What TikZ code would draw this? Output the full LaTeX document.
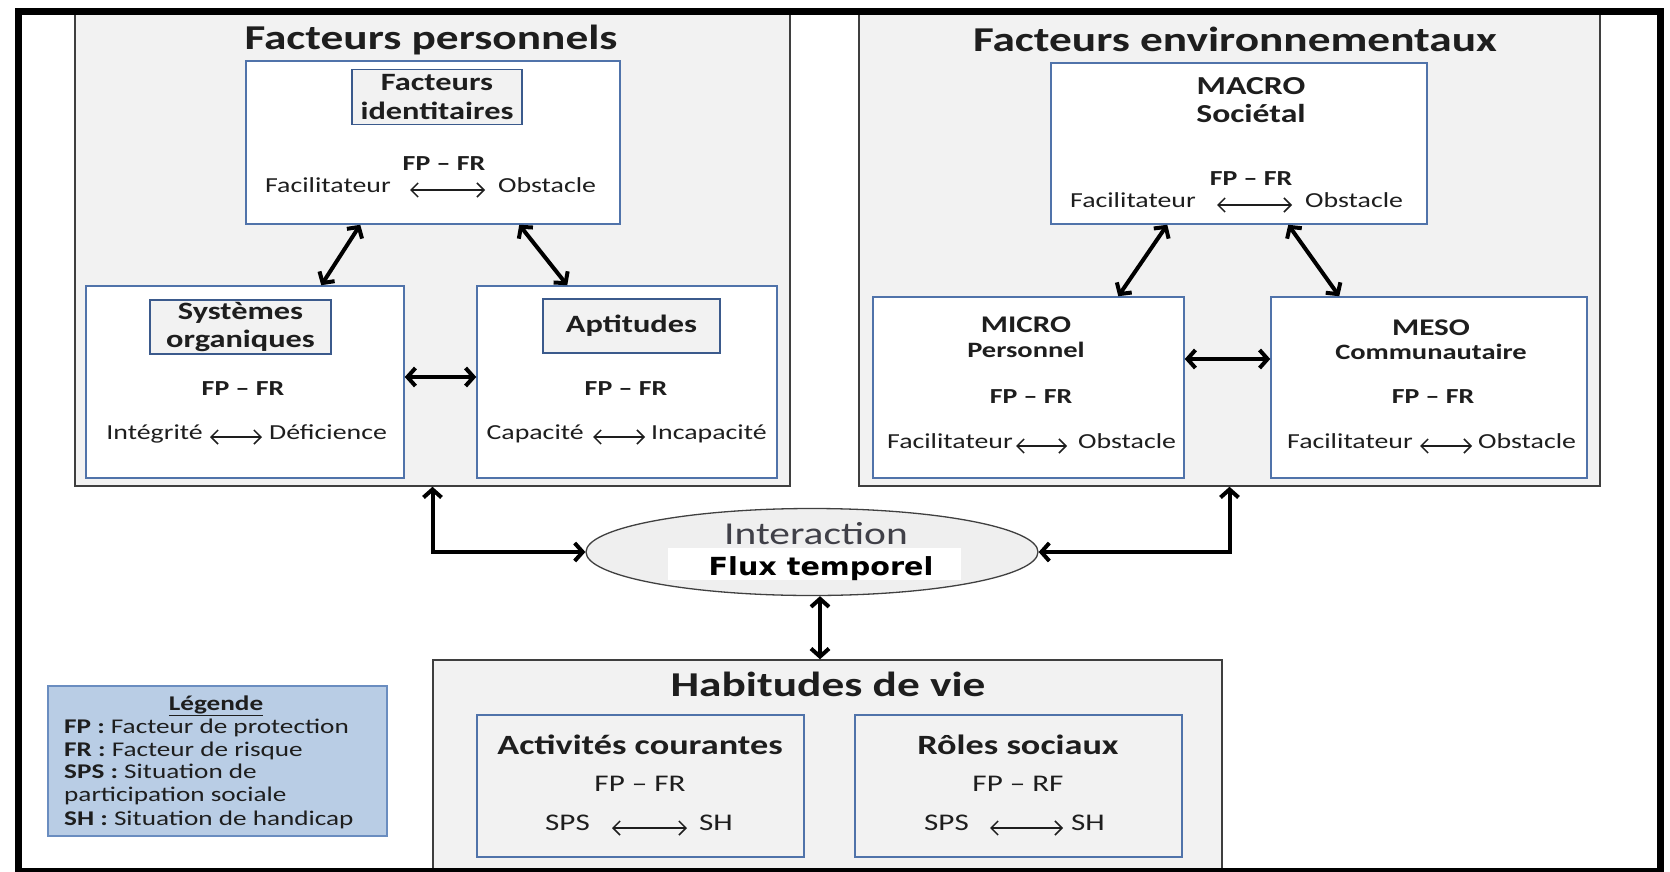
\documentclass[tikz,border=0pt]{standalone}
\usepackage{fontspec}
\setmainfont{Carlito}[FakeStretch=1.3]
\newfontfamily\fluxfont{DejaVu Sans}[FakeStretch=1.15]
\usetikzlibrary{arrows.meta,shapes.geometric}
\definecolor{biggray}{HTML}{F2F2F2}
\definecolor{bigborder}{HTML}{3F3F3F}
\definecolor{boxblue}{HTML}{5073AA}
\definecolor{tagblue}{HTML}{3B5A8C}
\definecolor{legfill}{HTML}{B9CDE5}
\definecolor{legborder}{HTML}{6A8DC0}
\definecolor{ellfill}{HTML}{EFEFEF}
\definecolor{ellborder}{HTML}{404040}
\definecolor{ink}{HTML}{1E1E1E}
\definecolor{intercol}{HTML}{404048}
\newcommand\ftitle{\fontsize{35}{40}\selectfont\bfseries}
\newcommand\ftag{\fontsize{25}{28.5}\selectfont\bfseries}
\newcommand\fbody{\fontsize{21.5}{24}\selectfont}
\newcommand\fbodyb{\fontsize{21.5}{24}\selectfont\bfseries}
\newcommand\fmacro{\fontsize{26}{28}\selectfont\bfseries}
\newcommand\fmicro{\fontsize{24}{26}\selectfont\bfseries}
\newcommand\fsubl{\fontsize{22}{24}\selectfont\bfseries}
\newcommand\fhab{\fontsize{28}{30}\selectfont\bfseries}
\newcommand\fhabt{\fontsize{24}{26}\selectfont}
\newcommand\fleg{\fontsize{21}{23}\selectfont}
\newcommand\finter{\fontsize{32}{34}\selectfont}
\newcommand\fflux{\fluxfont\bfseries\fontsize{25}{27}\selectfont}
\begin{document}
\begin{tikzpicture}[x=1bp,y=-1bp,
  bigbox/.style={draw=bigborder, fill=biggray, line width=1.5bp, inner sep=0},
  wbox/.style={draw=boxblue, fill=white, line width=1.5bp, inner sep=0},
  gbox/.style={draw=boxblue, fill=biggray, line width=1.5bp, inner sep=0},
  tagbox/.style={draw=tagblue, fill=biggray, line width=1.8bp, inner sep=0, align=center, font=\ftag, text=ink},
  txt/.style={inner sep=0, text height=0.7em, text depth=0.2em, text=ink, yshift=-6bp},
  bigarr/.style={line width=4bp, draw=black, >={Straight Barb[length=8bp,width=18bp]}, <->},
  smallarr/.style={line width=1.5bp, draw=ink, >={Straight Barb[length=7bp,width=14bp]}, <->}
]
\useasboundingbox (0,0) rectangle (1670,871);
\fill[white] (0,0) rectangle (1670,871);

% ---------- Facteurs personnels ----------
\node[bigbox, minimum width=715bp, minimum height=473bp] (fp) at (432.5,249.5) {};
\node[txt, font=\ftitle] (fpt) at (431,41) {Facteurs personnels};

\node[wbox, minimum width=374bp, minimum height=163bp] (id) at (433,142.5) {};
\node[tagbox, minimum width=170bp, minimum height=55bp] (idt) at (437,97) {Facteurs\\identitaires};
\node[txt, font=\fbodyb] (idfp) at (444,162) {FP -- FR};
\node[txt, font=\fbody, anchor=east] (idf) at (391,184) {Facilitateur};
\node[txt, font=\fbody, anchor=west] (ido) at (498,184) {Obstacle};
\draw[smallarr] ([xshift=19bp]idf.east) -- ([xshift=-13bp]ido.west);

\node[wbox, minimum width=318bp, minimum height=192bp] (so) at (245,382) {};
\node[tagbox, minimum width=181bp, minimum height=54bp] (sot) at (240.5,327) {Systèmes\\organiques};
\node[txt, font=\fbodyb] (sofp) at (243,387) {FP -- FR};
\node[txt, font=\fbody, anchor=east] (soi) at (203,431) {Intégrité};
\node[txt, font=\fbody, anchor=west] (sod) at (269,431) {Déficience};
\draw[smallarr] ([xshift=7bp]soi.east) -- ([xshift=-7bp]sod.west);

\node[wbox, minimum width=300bp, minimum height=192bp] (ap) at (627,382) {};
\node[tagbox, minimum width=177bp, minimum height=54bp] (apt) at (631.5,326) {Aptitudes};
\node[txt, font=\fbodyb] (apfp) at (626,387) {FP -- FR};
\node[txt, font=\fbody, anchor=east] (apc) at (584,431) {Capacité};
\node[txt, font=\fbody, anchor=west] (api) at (651,431) {Incapacité};
\draw[smallarr] ([xshift=9bp]apc.east) -- ([xshift=-6bp]api.west);

\draw[bigarr] ([xshift=115bp]id.south west) -- ([xshift=236bp]so.north west);
\draw[bigarr] ([xshift=274bp]id.south west) -- ([xshift=91bp]ap.north west);
\draw[bigarr] ([yshift=5bp]so.east) -- ([yshift=5bp]ap.west);

% ---------- Facteurs environnementaux ----------
\node[bigbox, minimum width=741bp, minimum height=473bp] (fe) at (1229.5,249.5) {};
\node[txt, font=\ftitle] (fet) at (1235,43) {Facteurs environnementaux};

\node[wbox, minimum width=376bp, minimum height=161bp] (ma) at (1239,143.5) {};
\node[txt, font=\fmacro] (mat) at (1251,86) {MACRO};
\node[txt, font=\fmacro] (mas) at (1251,114) {Sociétal};
\node[txt, font=\fbodyb] (mafp) at (1251,177) {FP -- FR};
\node[txt, font=\fbody, anchor=east] (maf) at (1196,199) {Facilitateur};
\node[txt, font=\fbody, anchor=west] (mao) at (1305,199) {Obstacle};
\draw[smallarr] ([xshift=21bp]maf.east) -- ([xshift=-13bp]mao.west);

\node[wbox, minimum width=311bp, minimum height=181bp] (mi) at (1028.5,387.5) {};
\node[txt, font=\fmicro] (mit) at (1026,324) {MICRO};
\node[txt, font=\fsubl] (mis) at (1026,349) {Personnel};
\node[txt, font=\fbodyb] (mifp) at (1031,395) {FP -- FR};
\node[txt, font=\fbody, anchor=east] (mif) at (1013,440) {Facilitateur};
\node[txt, font=\fbody, anchor=west] (mio) at (1078,440) {Obstacle};
\draw[smallarr] ([xshift=3bp]mif.east) -- ([xshift=-11bp]mio.west);

\node[wbox, minimum width=316bp, minimum height=181bp] (me) at (1429,387.5) {};
\node[txt, font=\fmicro] (met) at (1431,327) {MESO};
\node[txt, font=\fsubl] (mes) at (1431,351) {Communautaire};
\node[txt, font=\fbodyb] (mefp) at (1433,395) {FP -- FR};
\node[txt, font=\fbody, anchor=east] (mef) at (1413,440) {Facilitateur};
\node[txt, font=\fbody, anchor=west] (meo) at (1478,440) {Obstacle};
\draw[smallarr] ([xshift=7bp]mef.east) -- ([xshift=-6bp]meo.west);

\draw[bigarr] ([xshift=117bp]ma.south west) -- ([xshift=246bp]mi.north west);
\draw[bigarr] ([xshift=238bp]ma.south west) -- ([xshift=69bp]me.north west);
\draw[bigarr] ([yshift=28.5bp]mi.east) -- ([yshift=28.5bp]me.west);

% ---------- Interaction ----------
\node[ellipse, draw=ellborder, fill=ellfill, line width=1.3bp, minimum width=452bp, minimum height=87bp, inner sep=0] (inter) at (812,552) {};
\node[txt, font=\finter, text=intercol] (intt) at (816,536) {Interaction};
\node[fill=white, minimum width=293bp, minimum height=32bp, inner sep=0] (fluxbg) at (814.5,564) {};
\node[inner sep=0, font=\fflux, text=black] (flux) at (821,569) {Flux temporel};

\draw[bigarr] (fp.south) |- (inter.west);
\draw[bigarr] (fe.south) |- (inter.east);

% ---------- Habitudes de vie ----------
\node[bigbox, minimum width=789bp, minimum height=209bp] (hab) at (827.5,764.5) {};
\node[txt, font=\ftitle] (habt) at (828,688) {Habitudes de vie};
\draw[bigarr] ([xshift=8bp]inter.south) -- ([xshift=8bp]inter.south |- hab.north);

\node[gbox, minimum width=327bp, minimum height=142bp] (ac) at (640.5,786) {};
\node[txt, font=\fhab] (act) at (640,746) {Activités courantes};
\node[txt, font=\fhabt] (acfp) at (640,783) {FP -- FR};
\node[txt, font=\fhabt, anchor=east] (acs) at (590,822) {SPS};
\node[txt, font=\fhabt, anchor=west] (ach) at (699,822) {SH};
\draw[smallarr] ([xshift=22bp]acs.east) -- ([xshift=-12bp]ach.west);

\node[gbox, minimum width=327bp, minimum height=142bp] (ro) at (1018.5,786) {};
\node[txt, font=\fhab] (rot) at (1018,746) {Rôles sociaux};
\node[txt, font=\fhabt] (rofp) at (1018,783) {FP -- RF};
\node[txt, font=\fhabt, anchor=east] (ros) at (969,822) {SPS};
\node[txt, font=\fhabt, anchor=west] (roh) at (1071,822) {SH};
\draw[smallarr] ([xshift=21bp]ros.east) -- ([xshift=-8bp]roh.west);

% ---------- Legend ----------
\node[draw=legborder, fill=legfill, line width=1.5bp, minimum width=339bp, minimum height=150bp, inner sep=0] (leg) at (217.5,761) {};
\node[txt, font=\fleg\bfseries] (legt) at (216,702) {\underline{Légende}};
\node[txt, font=\fleg, anchor=west] (leg1) at (64,725) {\textbf{FP :} Facteur de protection};
\node[txt, font=\fleg, anchor=west] (leg2) at (64,748) {\textbf{FR :} Facteur de risque};
\node[txt, font=\fleg, anchor=west] (leg3) at (64,770) {\textbf{SPS :} Situation de};
\node[txt, font=\fleg, anchor=west] (leg4) at (64,793) {participation sociale};
\node[txt, font=\fleg, anchor=west] (leg5) at (64,817) {\textbf{SH :} Situation de handicap};

% ---------- Outer frame ----------
\draw[line width=7bp, black] (18,11) rectangle (1660,871);
\end{tikzpicture}
\end{document}
